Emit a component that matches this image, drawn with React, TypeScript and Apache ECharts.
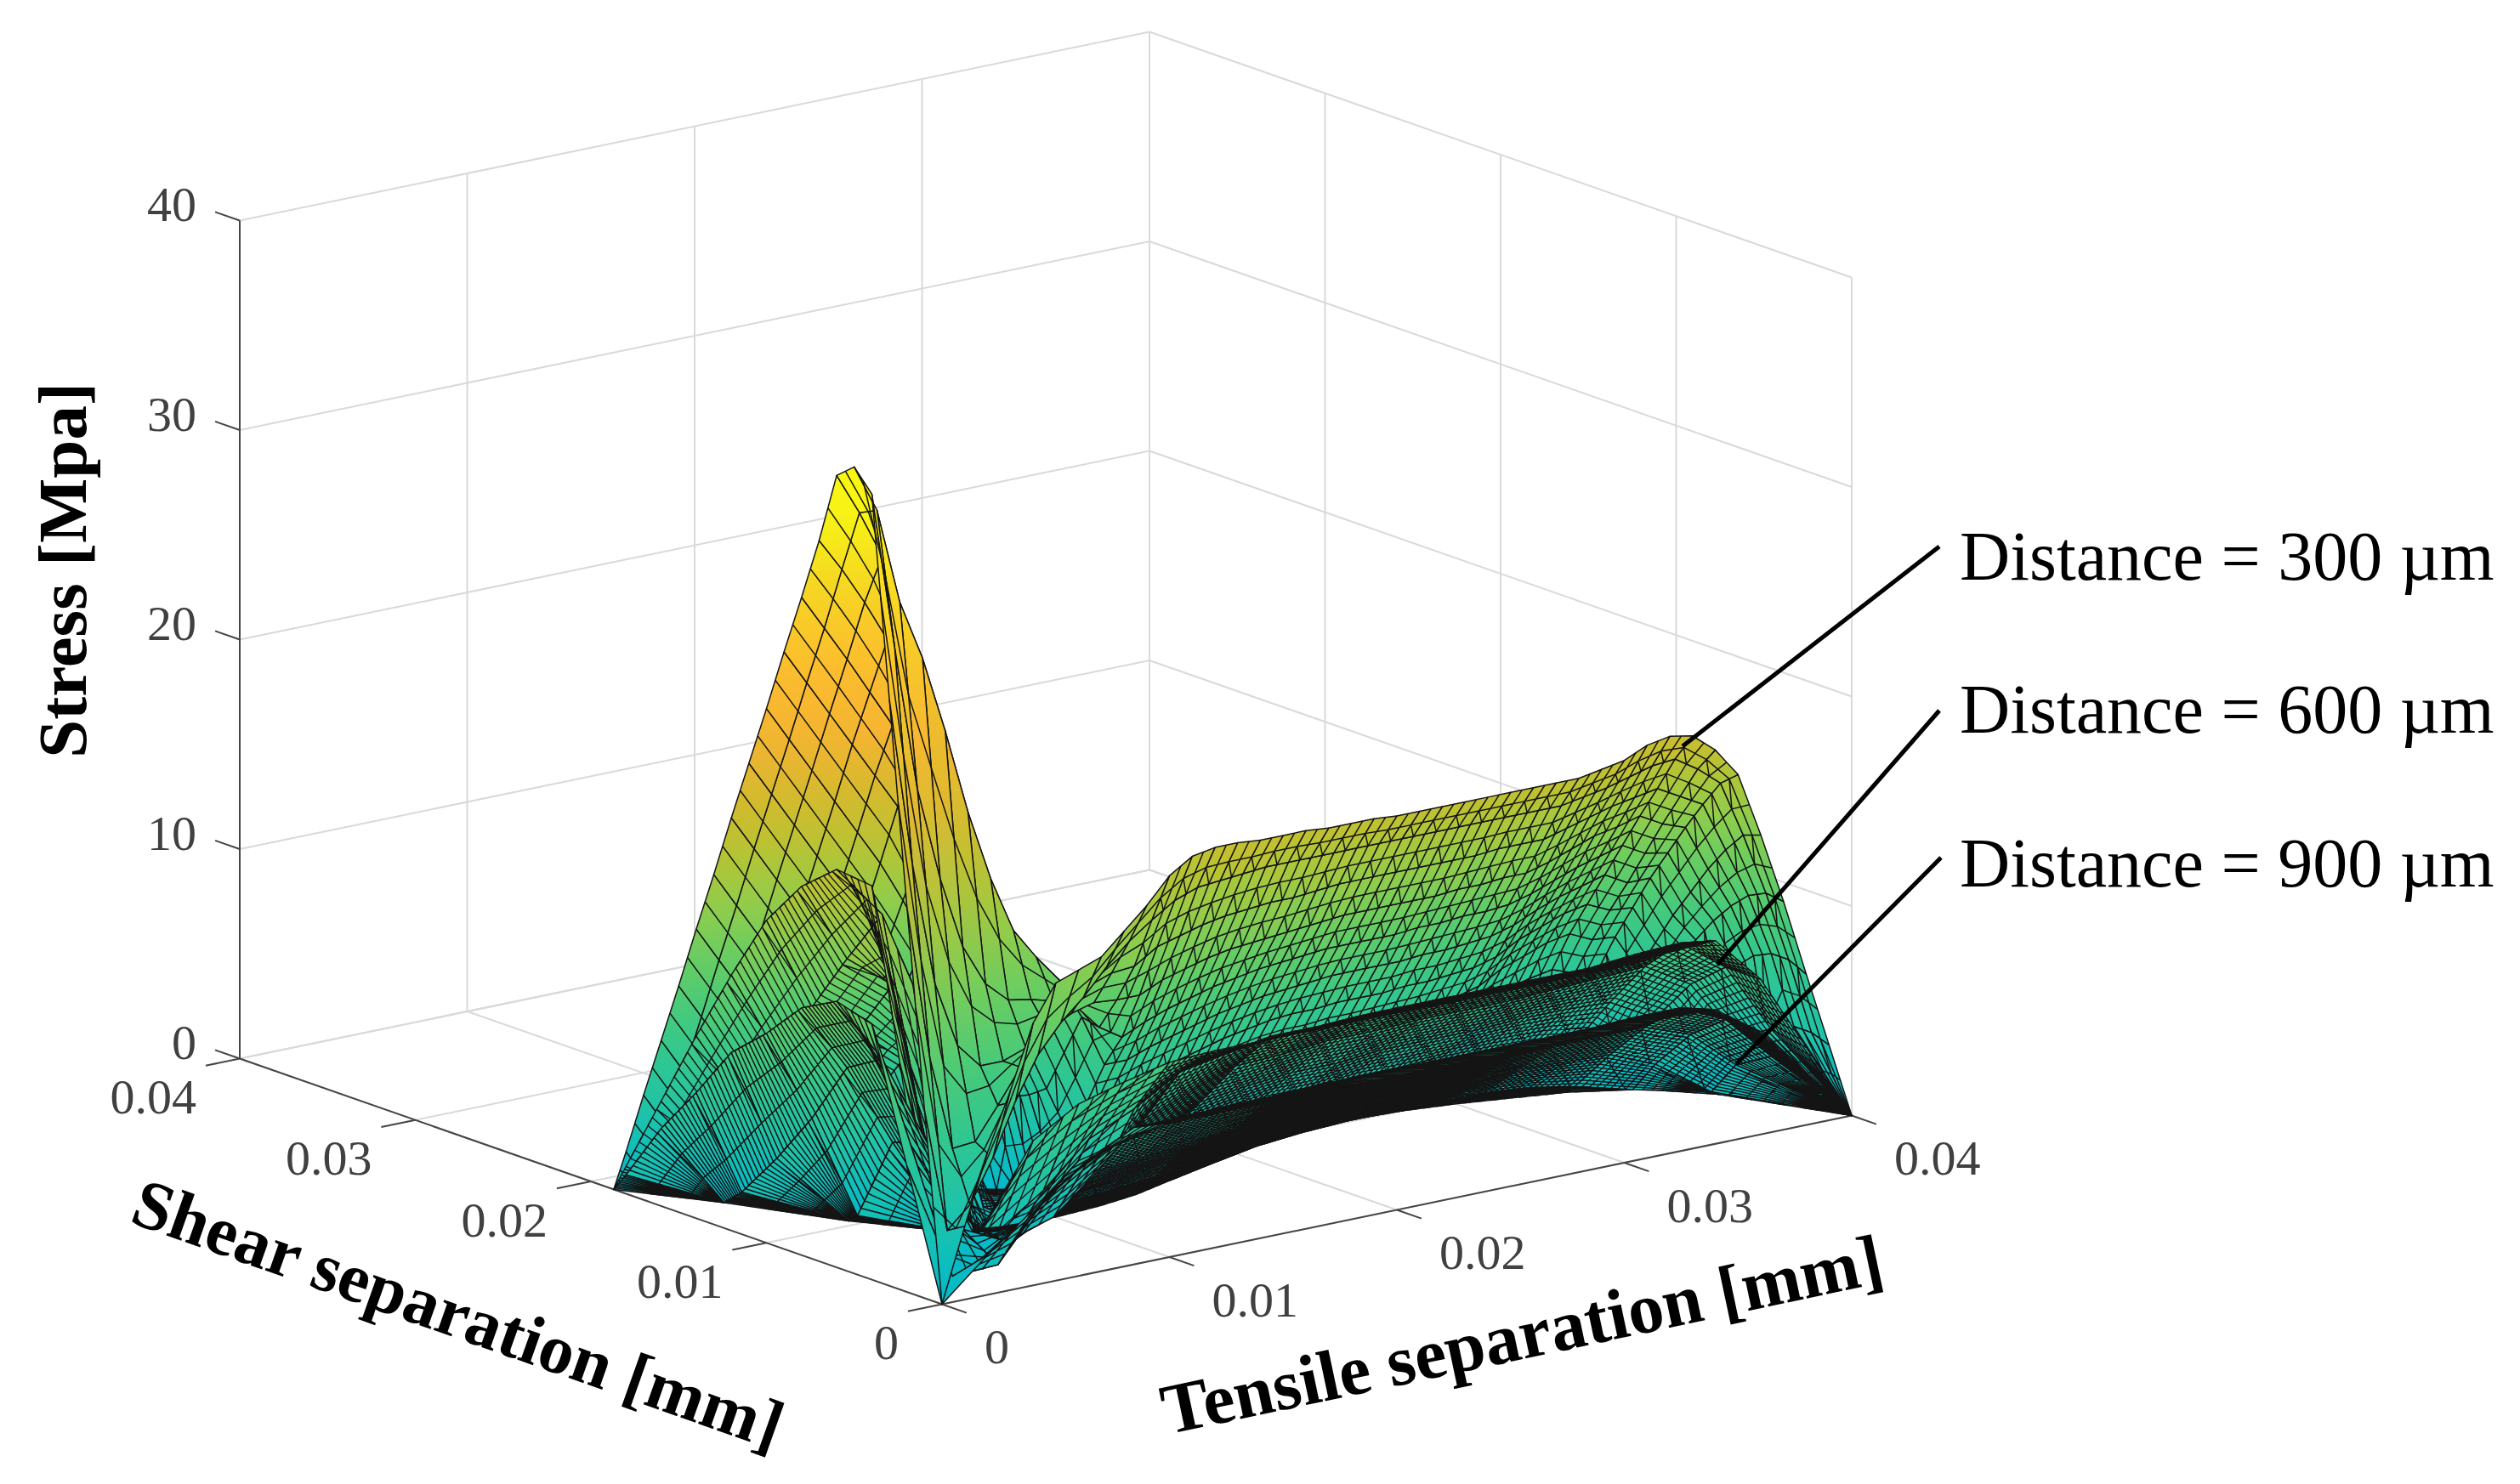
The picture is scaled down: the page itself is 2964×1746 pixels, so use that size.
import React, { useEffect, useRef } from "react";
import * as echarts from "echarts";

// Axis ticks (units on the axes: mm and MPa)
const stressTicks = [0, 10, 20, 30, 40];
const separationTicks = [0, 0.01, 0.02, 0.03, 0.04];
const separationLabels = ["0", "0.01", "0.02", "0.03", "0.04"];

// Stress. One list per tensile separation column, entries run along
// shear separation. Indexes are in units of 0.001 mm.
const stress300: number[][] = [
  [0,9,18.4,28,37.5,38.5,37.8,34.4,31.4,28.5,25.5,22.6,19.7,16.7,13.8,10.8,7.9,5,2],
  [3.5,3,11,20,30,36.2,35.8,32.8,29.7,26.8,23.8,20.9,18,15,12.1,9.1,6.2,3.3,0.4],
  [6.8,4,6.4,14,23,31.6,33.5,31,28,25.1,22.1,19.2,16.3,13.3,10.4,7.4,4.5,1.6],
  [9.5,6,6.5,10.8,18.5,28.7,30.2,29,26.2,23.4,20.4,17.5,14.6,11.6,8.7,5.7,2.8,0.3],
  [12.5,8.5,8,9.6,15,25,27,26.5,24.4,21.7,18.7,15.8,12.9,9.9,7,4,1.1],
  [14.2,10.5,9.6,9.6,13,20.9,23,23,22,20,17,14.1,11.2,8.2,5.3,2.3],
  [14.6,11.8,10.7,10,12,17.5,19,19,18.5,17.5,15,12.4,9.5,6.5,3.6],
  [15,12.8,11.7,10.6,11.8,14.8,16,15,14.7,14,12.8,10.7,7.8,4.8],
  [16,14,12.8,11.2,11.5,13.3,13,11.5,11,10.5,9.8,8.5,6],
  [17,15,13.2,11.5,11,12,10.5,8.5,8,7.5,7,6],
  [18.2,15.8,13.3,11.4,9.8,10,8,6,5.4,5,4.5],
  [18.9,16.5,14,11.4,9.1,7.5,5.4,3.5,1.7,0.3],
  [19.1,16.9,14.3,11.9,9.6,7.5,5.5,3.6,1.9,0.4],
  [19.1,17,14.6,12.2,10,7.9,5.9,4,2.2,0.6],
  [19,17.1,14.8,12.5,10.3,8.2,6.2,4.3,2.5,0.8],
  [19,17.2,14.9,12.7,10.6,8.5,6.5,4.6,2.8,1.1],
  [19,17.2,15,12.8,10.8,8.8,6.8,4.9,3.1,1.4],
  [18.9,17.2,15,12.9,11,9,7.1,5.2,3.4,1.7,0.2],
  [18.9,17.2,15.1,13,11.1,9.2,7.3,5.5,3.7,2,0.4],
  [18.9,17.2,15.2,13.1,11.2,9.3,7.5,5.7,3.9,2.2,0.6],
  [18.8,17.2,15.2,13.2,11.3,9.4,7.6,5.8,4,2.3,0.7],
  [18.8,17.2,15.2,13.2,11.3,9.5,7.6,5.8,4.1,2.4,0.8],
  [18.8,17.2,15.2,13.2,11.3,9.5,7.7,5.9,4.2,2.5,0.9],
  [18.8,17.2,15.2,13.2,11.3,9.5,7.7,5.9,4.2,2.6,1],
  [18.8,17.2,15.2,13.2,11.4,9.5,7.7,6,4.3,2.6,1],
  [18.8,17.2,15.2,13.3,11.4,9.6,7.8,6,4.3,2.7,1.1],
  [18.8,17.2,15.3,13.3,11.5,9.6,7.8,6.1,4.4,2.8,1.2],
  [18.8,17.2,15.3,13.4,11.5,9.7,7.9,6.2,4.5,2.9,1.3],
  [18.8,17.2,15.3,13.4,11.6,9.8,8,6.3,4.6,3,1.4],
  [19,17.4,15.6,13.7,11.9,10.1,8.3,6.6,4.9,3.1,1],
  [19.2,17.6,15.9,14.1,12.3,10.6,8.9,7.2,5.4,3.2],
  [19.7,17.9,16.2,14.5,12.7,11,9.3,7.6,5.7,3.6],
  [19.9,18.2,16.4,14.7,13,11.3,9.7,8,6,3.4],
  [19.7,18.3,16.6,15,13.3,11.6,9.9,8.2,6.2],
  [18.8,17.6,16,14.4,12.7,11,9.4,7.7,5.8],
  [17.4,16.7,15.4,14,12.5,11,9.3,7.6,5.7],
  [14.3,14,13,11.8,10.4,9,7.4,5.8],
  [10.9,11,10.6,9.8,8.8,7.6,6.2],
  [7.2,7.6,7.6,7.2,6.4,5.2],
  [3.6,3.9,3.9,3.6],
  [0],
];
const zeroContour300 = [18.7,18.5,18,17.5,17,16,15,14,13,12,11,10,9.5,9.5,9.5,9.5,9.7,10,10,10.2,10.4,10.5,10.5,10.6,10.6,10.6,10.5,10.4,10.2,10,9.8,9.5,9.2,8.9,8.6,8.2,7.5,6.5,5,3,0];

// Columns every 0.002 mm, entries every 0.002 mm.
const stress600: number[][] = [
  [0,8.8,18.8,19,17.6,15.4,12.2,8.7,5,1.3],
  [3.5,1,8,16.4,13.7,10.8,8,5.1,2.2],
  [6.9,2,1.5,11,12,9.2,6.3,3.4,0.5],
  [8.2,3.5,0.3,0.5,9.1,7.4,4.7,1.8],
  [8.8,5.5,1.5,0.3,0.5,1,0.8],
  [9.3,6.5,2.5,1,0.3,0.2],
  [9.4,7.8,5,2.5,1],
  [9.4,8.2,5.8,3.3,1.4],
  [9.4,8.6,6.6,4.3,2],
  [9.4,8.6,6.7,4.6,2.4,0.6],
  [9.4,8.7,6.9,4.8,2.7,0.8],
  [9.4,8.7,6.9,4.8,2.7,0.8],
  [9.4,8.7,7,5,2.9,0.9],
  [9.4,8.7,7,5,2.9,0.9],
  [9.4,8.7,7,5,3,0.9],
  [9.4,8.7,7.1,5.1,3],
  [9.6,8.9,7.2,5.1,2.9],
  [9.7,9,7.3,5,2.5],
  [7.4,7.4,6,3.8],
  [3.7,4,3],
  [0],
];
const zeroContour600 = [18.7,18,17,15,13,11,9.5,9.5,9.7,10,10.4,10.5,10.6,10.5,10.2,9.8,9.2,8.6,7.5,5,0];
const stress900: number[][] = [
  [0,6,12.2,12.7,11.8,10,8.5,6,3.7,0.9],
  [1.9,0.3,5,9.5,8.5,5.5,3,0.8],
  [3.6,0.4,1.5,5,4.5,0.4],
  [5.5,3,0.5,0.3],
  [6,4.5,1.2,0.1],
  [6.4,5.6,3,0.8],
  [6.4,5.6,3.2,1],
  [6.4,5.7,3.4,1.2],
  [6.4,5.7,3.6,1.6],
  [6.4,5.8,3.9,2,0.3],
  [6.4,5.8,4.1,2.3,0.7],
  [6.4,5.8,4.2,2.5,0.9],
  [6.4,5.8,4.3,2.6,1,0.2],
  [6.4,5.8,4.3,2.6,1,0.2],
  [6.4,5.8,4.3,2.6,1],
  [6.4,5.8,4.4,2.7,1],
  [6.5,5.9,4.4,2.6,0.8],
  [6.4,5.9,4.4,2.5,0.4],
  [4.9,4.9,3.6,1.6],
  [2.5,2.7,1.7],
  [0],
];
const zeroContour900 = [18.7,15,10.5,7.2,6.6,6.5,6.7,7.1,7.8,8.5,9.5,10,10.2,10.2,10,9.6,9,8.4,7.3,5.4,0];

const legendTexts = ["Distance = 300 µm", "Distance = 600 µm", "Distance = 900 µm"];

// Colour map: stress (MPa) against RGB
const colourStops: [number, number, number, number][] = [
  [0,0,185,205],[4,30,195,170],[8,55,200,135],[12,100,205,100],[15,145,205,75],[18,185,195,50],
  [21,215,185,45],[24,245,180,50],[28,252,190,45],[32,245,215,35],[36,248,245,20],[40,250,250,15],
];

const FONT = '"Liberation Serif"';
type P3 = [number, number, number];

// Oblique projection of the MATLAB-style 3D box onto the hidden cartesian axes
const project = (t: number, s: number, z: number): [number, number] => [
  1108 + t * 26.75 - s * 20.65,
  1534.5 - t * 5.55 - s * 7.225 - z * 24.65,
];
const depthOf = (t: number, s: number, z: number) => 10.5 * t + 13.6 * s - 3.65 * z;

const colourOf = (z: number) => {
  for (let i = 1; i < colourStops.length; i++) {
    if (z <= colourStops[i][0]) {
      const a = colourStops[i - 1], b = colourStops[i];
      const f = Math.max(0, (z - a[0]) / (b[0] - a[0]));
      return `rgb(${[1, 2, 3].map((k) => Math.round(a[k] + (b[k] - a[k]) * f)).join(",")})`;
    }
  }
  return "rgb(250,250,15)";
};

type Cell = { corners: P3[]; depth: number; nT: number; nS: number; lw: number; layer: number };

type Hatch = (t: number, s: number) => [number, number];

function buildCells(table: number[][], contour: number[], step: number, hatch: Hatch, lw: number, layer: number): Cell[] {
  const node = (i: number, j: number): P3 => {
    const s = j * step, arc = contour[i];
    if (j >= table[i].length || s >= arc) return [i * step, arc, 0];
    return [i * step, s, table[i][j]];
  };
  const cells: Cell[] = [];
  const maxRows = Math.max(...table.map((c) => c.length)) + 1;
  for (let i = 0; i < table.length - 1; i++) {
    for (let j = 0; j < maxRows - 1; j++) {
      if (j >= table[i].length && j >= table[i + 1].length) continue;
      const corners = [node(i, j), node(i + 1, j), node(i + 1, j + 1), node(i, j + 1)];
      const c = corners.reduce((a, p) => [a[0] + p[0] / 4, a[1] + p[1] / 4, a[2] + p[2] / 4], [0, 0, 0]);
      // the corner patch of the tallest sheet stands in front of the two lower sheets
      const inCorner = layer === 0 && i < 8 && j < 5;
      const [nT, nS] = hatch(i * step, j * step);
      cells.push({ corners, depth: depthOf(c[0], c[1], c[2]), nT, nS, lw, layer: inCorner ? 3 : layer });
    }
  }
  return cells;
}

// Each table cell is one filled quad; the finer wires of the original mesh are drawn as
// straight hatching inside the quad and carry no values of their own.
const surfaceCells: Cell[] = [
  ...buildCells(stress300, zeroContour300, 1, (t) => (t < 10 ? [1, 2] : [2, 2]), 1.5, 0),
  ...buildCells(stress600, zeroContour600, 2, (t, s) => (t < 10 && s < 6 ? [3, 5] : t < 10 ? [3, 8] : [8, 8]), 1.4, 1),
  ...buildCells(stress900, zeroContour900, 2, (t, s) => (t < 2 && s < 4 ? [1, 1] : t < 10 && s < 6 ? [3, 5] : t < 10 ? [3, 10] : t < 28 ? [8, 16] : [8, 10]), 1.5, 2),
].sort((a, b) => a.layer - b.layer || b.depth - a.depth);

type Seg = { a: P3; b: P3; colour: string; width: number };
const frame: Seg[] = [];
const LIGHT = "#d9d9d9", DARK = "#454545";
const mm = (v: number) => v * 1000;
stressTicks.forEach((z) => {
  frame.push({ a: [0, 40, z], b: [40, 40, z], colour: LIGHT, width: 2 });
  frame.push({ a: [40, 40, z], b: [40, 0, z], colour: LIGHT, width: 2 });
});
separationTicks.forEach((v) => {
  const u = mm(v);
  frame.push({ a: [u, 40, 0], b: [u, 40, 40], colour: LIGHT, width: 2 });
  frame.push({ a: [40, u, 0], b: [40, u, 40], colour: LIGHT, width: 2 });
  frame.push({ a: [u, 0, 0], b: [u, 40, 0], colour: LIGHT, width: 2 });
  frame.push({ a: [0, u, 0], b: [40, u, 0], colour: LIGHT, width: 2 });
});
frame.push({ a: [0, 40, 0], b: [0, 40, 40], colour: DARK, width: 2 });
frame.push({ a: [0, 0, 0], b: [0, 40, 0], colour: DARK, width: 2 });
frame.push({ a: [0, 0, 0], b: [40, 0, 0], colour: DARK, width: 2 });
stressTicks.forEach((z) => frame.push({ a: [0, 40, z], b: [0, 41.4, z], colour: DARK, width: 2 }));
separationTicks.forEach((v) => {
  const u = mm(v);
  frame.push({ a: [0, u, 0], b: [-1.5, u, 0], colour: DARK, width: 2 });
  frame.push({ a: [u, 0, 0], b: [u, -1.4, 0], colour: DARK, width: 2 });
});

type Lab = { pos: P3; text: string; dx: number; dy: number; align: string };
const tickLabels: Lab[] = [
  ...stressTicks.map((z) => ({ pos: [0, 40, z] as P3, text: String(z), dx: -51, dy: -19, align: "right" })),
  ...separationTicks.map((v, i) => ({ pos: [0, mm(v), 0] as P3, text: separationLabels[i], dx: -51, dy: 45, align: "right" })),
  ...separationTicks.map((v, i) => ({ pos: [mm(v), 0, 0] as P3, text: separationLabels[i], dx: 50, dy: 50, align: "left" })),
];

const lerp = (a: number[], b: number[], f: number) => [a[0] + (b[0] - a[0]) * f, a[1] + (b[1] - a[1]) * f];

export default function App() {
  const ref = useRef<HTMLDivElement>(null);
  useEffect(() => {
    const chart = echarts.init(ref.current!, undefined, { renderer: "svg" });
    const renderCell = (params: any, api: any) => {
      const c = surfaceCells[params.dataIndex];
      const q = c.corners.map((p) => api.coord(project(p[0], p[1], p[2])));
      const area = Math.abs(
        (q[2][0] - q[0][0]) * (q[3][1] - q[1][1]) - (q[3][0] - q[1][0]) * (q[2][1] - q[0][1])
      ) / 2;
      if (area < 0.3) return null;
      let lo = 0, hi = 0;
      c.corners.forEach((p, k) => {
        if (p[2] < c.corners[lo][2]) lo = k;
        if (p[2] > c.corners[hi][2]) hi = k;
      });
      const zLo = c.corners[lo][2], zHi = c.corners[hi][2];
      const fill = zHi - zLo < 0.05 || Math.hypot(q[hi][0] - q[lo][0], q[hi][1] - q[lo][1]) < 1
        ? colourOf(zHi)
        : {
            type: "linear", global: true, x: q[lo][0], y: q[lo][1], x2: q[hi][0], y2: q[hi][1],
            colorStops: [
              { offset: 0, color: colourOf(zLo) },
              { offset: 0.5, color: colourOf((zLo + zHi) / 2) },
              { offset: 1, color: colourOf(zHi) },
            ],
          };
      const children: any[] = [
        { type: "polygon", shape: { points: q }, style: { fill, stroke: "#141414", lineWidth: c.lw, lineJoin: "round" } },
      ];
      if (area > 60) {
        const pts: number[][] = [];
        for (let k = 1; k < c.nT; k++) {
          const p1 = lerp(q[0], q[1], k / c.nT), p2 = lerp(q[3], q[2], k / c.nT);
          if (k % 2) pts.push(p1, p2); else pts.push(p2, p1);
        }
        for (let k = 1; k < c.nS; k++) {
          const p1 = lerp(q[0], q[3], k / c.nS), p2 = lerp(q[1], q[2], k / c.nS);
          if (k % 2) pts.push(p1, p2); else pts.push(p2, p1);
        }
        if (pts.length) children.push({ type: "polyline", shape: { points: pts }, style: { fill: "none", stroke: "#141414", lineWidth: c.lw } });
      }
      return { type: "group", children };
    };
    chart.setOption({
      animation: false,
      backgroundColor: "#ffffff",
      grid: { left: 0, right: 0, top: 0, bottom: 0 },
      xAxis: { type: "value", min: 0, max: 2964, show: false },
      yAxis: { type: "value", min: 0, max: 1746, inverse: true, show: false },
      tooltip: { show: false },
      series: [
        {
          type: "custom", silent: true, clip: false, z: 1, progressive: 0,
          data: frame.map((f) => project(f.a[0], f.a[1], f.a[2])),
          renderItem: (params: any, api: any) => {
            const f = frame[params.dataIndex];
            const a = api.coord(project(f.a[0], f.a[1], f.a[2]));
            const b = api.coord(project(f.b[0], f.b[1], f.b[2]));
            return { type: "line", shape: { x1: a[0], y1: a[1], x2: b[0], y2: b[1] }, style: { stroke: f.colour, lineWidth: f.width } };
          },
        },
        {
          type: "custom", silent: true, clip: false, z: 2, progressive: 0,
          data: tickLabels.map((l) => project(l.pos[0], l.pos[1], l.pos[2])),
          renderItem: (params: any, api: any) => {
            const l = tickLabels[params.dataIndex];
            const p = api.coord(project(l.pos[0], l.pos[1], l.pos[2]));
            return {
              type: "text", x: p[0] + l.dx, y: p[1] + l.dy,
              style: { text: l.text, fontFamily: FONT, fontSize: 58, fill: "#404040", align: l.align, verticalAlign: "middle" },
            };
          },
        },
        {
          type: "custom", silent: true, clip: false, z: 3, progressive: 0,
          data: surfaceCells.map((c, i) => [i, c.depth]),
          encode: { x: 0, y: 1 },
          renderItem: renderCell,
        },
      ],
      graphic: [
        { type: "text", z: 100, x: 74, y: 671, rotation: Math.PI / 2, style: { text: "Stress [Mpa]", fontFamily: FONT, fontWeight: "bold", fontSize: 81, fill: "#000", align: "center", verticalAlign: "middle" } },
        { type: "text", z: 100, x: 539, y: 1546, rotation: (-19.5 * Math.PI) / 180, style: { text: "Shear separation [mm]", fontFamily: FONT, fontWeight: "bold", fontSize: 82, fill: "#000", align: "center", verticalAlign: "middle" } },
        { type: "text", z: 100, x: 1790, y: 1570, rotation: (12 * Math.PI) / 180, style: { text: "Tensile separation [mm]", fontFamily: FONT, fontWeight: "bold", fontSize: 84, fill: "#000", align: "center", verticalAlign: "middle" } },
        ...legendTexts.map((t, i) => ({ type: "text", z: 100, x: 2305, y: [654, 834, 1015][i], style: { text: t, fontFamily: FONT, fontSize: 82, fill: "#000", align: "left", verticalAlign: "middle" } })),
        { type: "line", z: 100, shape: { x1: 2281, y1: 643, x2: 1979, y2: 878 }, style: { stroke: "#000", lineWidth: 5 } },
        { type: "line", z: 100, shape: { x1: 2281, y1: 836, x2: 2020, y2: 1135 }, style: { stroke: "#000", lineWidth: 5 } },
        { type: "line", z: 100, shape: { x1: 2283, y1: 1009, x2: 2042, y2: 1252 }, style: { stroke: "#000", lineWidth: 5 } },
      ],
    });
    return () => chart.dispose();
  }, []);
  return <div ref={ref} style={{ position: "absolute", left: 0, top: 0, width: 2964, height: 1746 }} />;
}
